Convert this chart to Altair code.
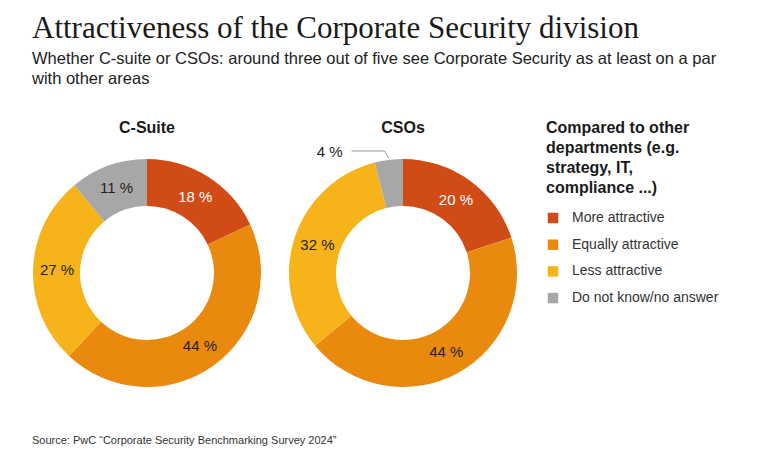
import math
import altair as alt
import pandas as pd

# ---------------- data ----------------
groups = ["C-Suite", "CSOs"]
categories = ["More attractive", "Equally attractive", "Less attractive", "Do not know/no answer"]
csuite_values = [18, 44, 27, 11]
cso_values = [20, 44, 32, 4]
colors = ["#D14B16", "#E98A0E", "#F7B31A", "#A7A7A7"]
title_text = "Attractiveness of the Corporate Security division"
subtitle_lines = [
    "Whether C-suite or CSOs: around three out of five see Corporate Security as at least on a par",
    "with other areas",
]
legend_title = ["Compared to other", "departments (e.g.", "strategy, IT,", "compliance ...)"]
source_text = "Source: PwC \u201cCorporate Security Benchmarking Survey 2024\u201d"

# ---------------- layout / style ----------------
W, H = 720, 350
centers_x = [115, 371]
center_y = 173
R_OUT, R_IN, R_LABEL = 114, 67, 90
SMALL = 5  # values below this get an outside label with a leader line
FONT = "Liberation Sans"

rows = []
for g, vals in zip(groups, [csuite_values, cso_values]):
    for i, (c, v) in enumerate(zip(categories, vals)):
        rows.append({"group": g, "category": c, "value": v, "order": i, "label": f"{v} %"})
df = pd.DataFrame(rows)

color_scale = alt.Scale(domain=categories, range=colors)


def donut(g, cx, show_legend):
    sub = df[df["group"] == g]
    base = alt.Chart(sub)
    arc = base.mark_arc(outerRadius=R_OUT, innerRadius=R_IN, stroke=None).encode(
        theta=alt.Theta("value:Q", stack=True),
        color=alt.Color(
            "category:N",
            scale=color_scale,
            sort=categories,
            legend=alt.Legend(
                title=legend_title,
                orient="none",
                legendX=514,
                legendY=20,
                titleFont=FONT,
                titleFontSize=16,
                titleFontWeight="bold",
                titleColor="#1a1a1a",
                titleLineHeight=20,
                titlePadding=15,
                labelFont=FONT,
                labelFontSize=14,
                labelColor="#333333",
                labelOffset=12,
                symbolType="square",
                symbolSize=110,
                symbolStrokeWidth=0,
                rowPadding=12.7,
            )
            if show_legend
            else None,
        ),
        order=alt.Order("order:Q"),
        x=alt.value(cx),
        y=alt.value(center_y),
    )
    labels = base.mark_text(radius=R_LABEL, font=FONT, fontSize=15).encode(
        theta=alt.Theta("value:Q", stack=True),
        order=alt.Order("order:Q"),
        text=alt.Text("label:N"),
        opacity=alt.condition(alt.datum.value >= SMALL, alt.value(1), alt.value(0)),
        color=alt.condition(
            alt.datum.category == categories[0], alt.value("white"), alt.value("#1f1f1f")
        ),
        x=alt.value(cx),
        y=alt.value(center_y),
    )
    head = alt.Chart(pd.DataFrame({"group": [g]})).mark_text(
        font=FONT, fontSize=16, fontWeight="bold", color="#1a1a1a"
    ).encode(text="group:N", x=alt.value(cx), y=alt.value(28))

    layers = [arc, labels, head]

    # leader lines for small segments
    cum = 0
    lead_rows, small_rows = [], []
    for _, r in sub.iterrows():
        mid = (cum + r["value"] / 2) / sub["value"].sum()
        cum += r["value"]
        if r["value"] < SMALL:
            a = 2 * math.pi * mid
            p1 = (cx + (R_OUT + 2) * math.sin(a), center_y - (R_OUT + 2) * math.cos(a))
            p2 = (cx + (R_OUT + 9) * math.sin(a) - 3, center_y - (R_OUT + 9) * math.cos(a))
            p3 = (p2[0] - 33, p2[1])
            for k, p in enumerate([p1, p2, p3]):
                lead_rows.append({"k": k, "px": p[0], "py": p[1]})
            small_rows.append({"px": p3[0] - 9, "py": p3[1] + 1, "label": r["label"]})
    if lead_rows:
        lead = alt.Chart(pd.DataFrame(lead_rows)).mark_line(
            color="#9a9a9a", strokeWidth=1
        ).encode(
            x=alt.X("px:Q", scale=None, axis=None),
            y=alt.Y("py:Q", scale=None, axis=None),
            order="k:Q",
        )
        small = alt.Chart(pd.DataFrame(small_rows)).mark_text(
            font=FONT, fontSize=15, align="right", color="#1f1f1f"
        ).encode(
            x=alt.X("px:Q", scale=None, axis=None),
            y=alt.Y("py:Q", scale=None, axis=None),
            text="label:N",
        )
        layers += [lead, small]
    return layers


source = alt.Chart(pd.DataFrame({"t": [source_text]})).mark_text(
    font=FONT, fontSize=11, color="#333333", align="left"
).encode(text="t:N", x=alt.value(0), y=alt.value(341))

layers = donut(groups[0], centers_x[0], True) + donut(groups[1], centers_x[1], False) + [source]

chart = (
    alt.layer(*layers)
    .properties(
        width=W,
        height=H,
        autosize=alt.AutoSizeParams(type="none"),
        padding={"left": 24, "top": 92, "right": 0, "bottom": 0},
        title=alt.TitleParams(
            text=title_text,
            subtitle=subtitle_lines,
            anchor="start",
            frame="group",
            font="Liberation Serif",
            fontSize=31,
            fontWeight="normal",
            color="#1a1a1a",
            subtitleFont=FONT,
            subtitleFontSize=16.5,
            subtitleColor="#222222",
            subtitleLineHeight=20,
            subtitlePadding=6,
            offset=12,
        ),
    )
    .configure_view(stroke=None)
)

chart.save("out.html", embed_options={"renderer": "svg", "actions": False})
